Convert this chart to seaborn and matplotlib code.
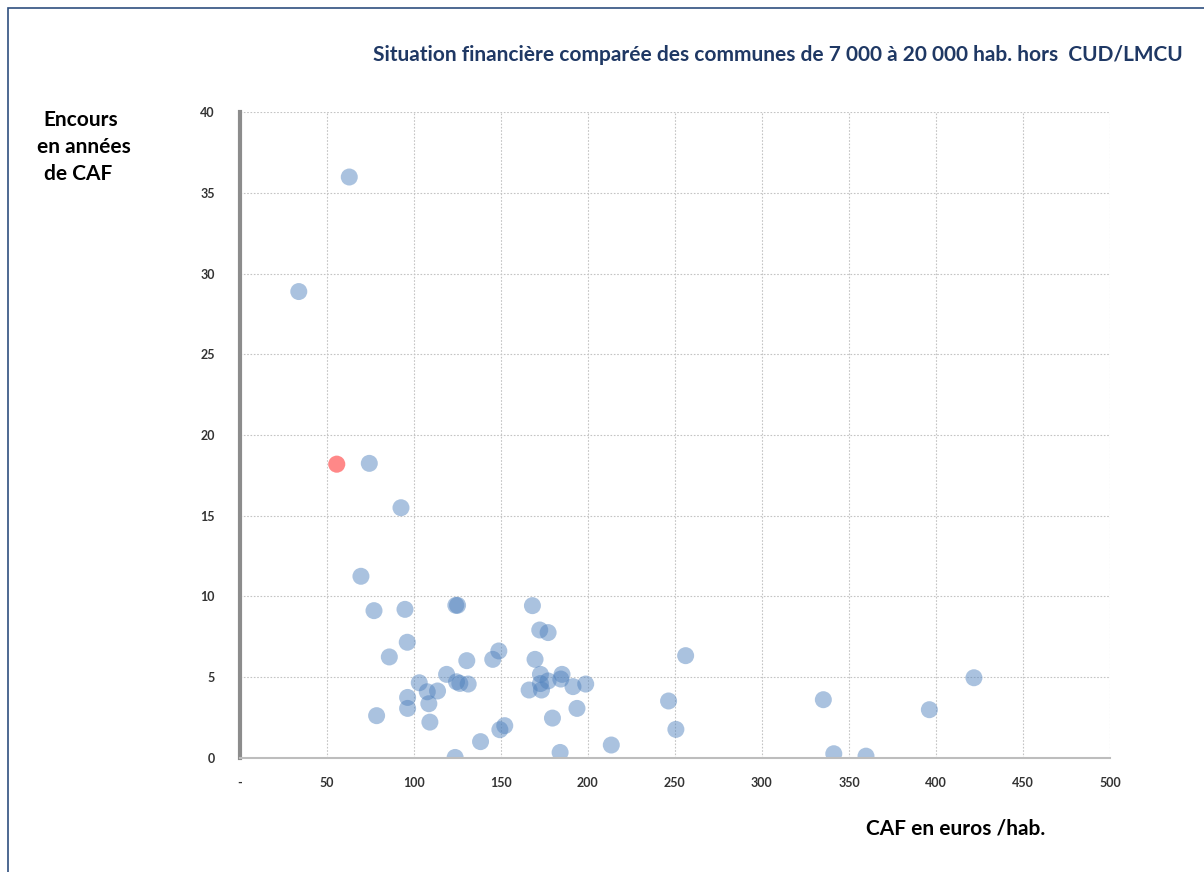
import numpy as np
import pandas as pd
import matplotlib
matplotlib.use("Agg")
import matplotlib.pyplot as plt
import seaborn as sns
from matplotlib.patches import Rectangle

# CAF en euros / hab. (x) et encours en années de CAF (y)
caf = [34, 63, 74.5, 92.7, 69.7, 77.2, 95.0, 124.2, 125.2, 168.2,
       96.3, 86.0, 172.4, 177.2, 130.5, 148.9, 145.4, 169.7, 118.9, 103.2,
       107.8, 113.7, 124.6, 126.5, 131.3, 172.8, 172.8, 177.2, 166.3, 173.4,
       185.2, 184.5, 191.5, 198.8, 96.5, 96.5, 108.7, 78.7, 109.3, 152.3,
       149.5, 193.8, 179.7, 138.4, 123.8, 184.1, 213.5, 256.2, 246.4, 250.6,
       335.3, 341.3, 359.8, 396.2, 421.8]
encours = [28.9, 36.0, 18.25, 15.5, 11.25, 9.12, 9.2, 9.45, 9.45, 9.43,
           7.16, 6.25, 7.92, 7.76, 6.02, 6.62, 6.10, 6.10, 5.17, 4.65,
           4.09, 4.14, 4.71, 4.61, 4.57, 5.17, 4.6, 4.76, 4.2, 4.2,
           5.17, 4.88, 4.41, 4.57, 3.74, 3.06, 3.35, 2.61, 2.21, 1.99,
           1.74, 3.06, 2.46, 1.0, 0.02, 0.33, 0.79, 6.33, 3.52, 1.76,
           3.6, 0.25, 0.1, 2.98, 4.96]

# la commune mise en évidence
caf_ville = [55.8]
encours_ville = [18.2]

x_ticks = [0, 50, 100, 150, 200, 250, 300, 350, 400, 450, 500]
x_tick_labels = ["-"] + [str(v) for v in x_ticks[1:]]
y_ticks = [0, 5, 10, 15, 20, 25, 30, 35, 40]


def main() -> None:
    sns.set_style("white")
    plt.rcParams['font.family'] = ['Lato', 'DejaVu Sans']

    df = pd.DataFrame({
        "caf": caf + caf_ville,
        "encours": encours + encours_ville,
        "groupe": ["autres"] * len(caf) + ["ville"] * len(caf_ville),
    })

    fig = plt.figure(figsize=(12.04, 8.72), dpi=100)
    ax = fig.add_axes([0.199, 0.131, 0.723, 0.740])

    sns.scatterplot(data=df, x="caf", y="encours", hue="groupe",
                    palette={"autres": "#4F81BD", "ville": "#FF4D4D"},
                    s=150, alpha=0.48, edgecolor="none", legend=False, ax=ax)
    # the red one is more opaque in the picture
    sns.scatterplot(x=caf_ville, y=encours_ville, color="#FF4D4D",
                    s=150, alpha=0.35, edgecolor="none", legend=False, ax=ax)

    ax.set_xlim(0, 500)
    ax.set_ylim(0, 40)
    ax.set_xticks(x_ticks)
    ax.set_xticklabels(x_tick_labels)
    ax.set_yticks(y_ticks)
    ax.grid(True, color="#c4c4c4", linestyle=(0, (1.5, 1.5)), linewidth=0.8)
    ax.set_axisbelow(True)

    for side in ["top", "right"]:
        ax.spines[side].set_visible(False)
    ax.spines["left"].set_color("#8c8c8c")
    ax.spines["left"].set_linewidth(3)
    ax.spines["bottom"].set_color("#bdbdbd")
    ax.spines["bottom"].set_linewidth(1.5)

    ax.tick_params(axis="both", direction="out", length=4, width=1.2,
                   color="#8c8c8c", labelsize=9, labelcolor="#333333")
    ax.tick_params(axis="x", pad=10)
    ax.tick_params(axis="y", pad=14)
    for lab in ax.get_xticklabels() + ax.get_yticklabels():
        lab.set_fontweight("bold")
    ax.set_xlabel("")
    ax.set_ylabel("")

    fig.text(1183 / 1204, 1 - 55 / 872,
             "Situation financière comparée des communes de 7 000 à 20 000 hab. hors  CUD/LMCU",
             ha="right", va="center", fontsize=15, fontweight="bold", color="#1F3864")
    fig.text(43 / 1204, 1 - 120 / 872, "Encours", ha="left", va="center",
             fontsize=15, fontweight="bold", color="black")
    fig.text(37 / 1204, 1 - 147 / 872, "en années", ha="left", va="center",
             fontsize=15, fontweight="bold", color="black")
    fig.text(44 / 1204, 1 - 174 / 872, "de CAF", ha="left", va="center",
             fontsize=15, fontweight="bold", color="black")
    fig.text(1045 / 1204, 1 - 828 / 872, "CAF en euros /hab.", ha="right", va="center",
             fontsize=15, fontweight="bold", color="black")

    # cadre du graphique
    fig.patches.append(Rectangle((8 / 1204, -0.1), 1.1, 1 - 8 / 872 + 0.1,
                                 transform=fig.transFigure, fill=False,
                                 edgecolor="#2F4F7F", linewidth=1.2))

    fig.savefig("out.png", dpi=100)


if __name__ == "__main__":
    main()
